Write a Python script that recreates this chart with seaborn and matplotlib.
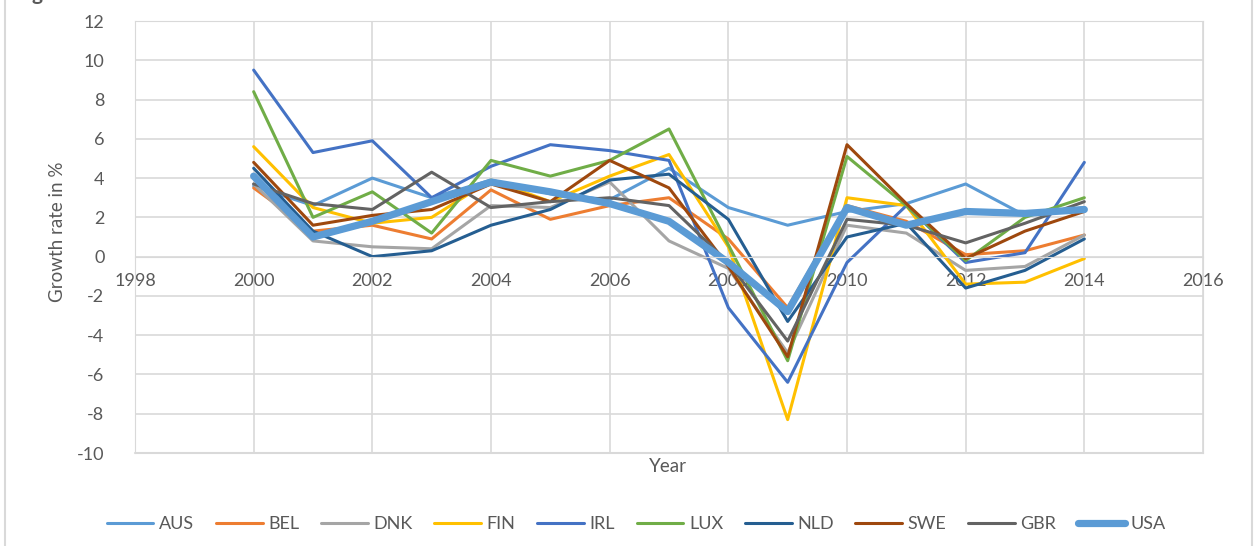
"""
GDP growth of selected countries, 2000-2014
"""
import matplotlib
matplotlib.use("Agg")
import matplotlib.pyplot as plt
import seaborn as sns
from matplotlib.lines import Line2D

sns.set_style("white")
plt.rcParams["font.family"] = ["Lato", "DejaVu Sans"]
plt.rcParams["axes.unicode_minus"] = False

years = list(range(2000, 2015))
countries = ["AUS", "BEL", "DNK", "FIN", "IRL", "LUX", "NLD", "SWE", "GBR", "USA"]

aus = [3.6, 2.6, 4.0, 3.0, 3.9, 3.2, 2.9, 4.5, 2.5, 1.6, 2.3, 2.7, 3.7, 2.1, 2.5]
bel = [3.5, 1.3, 1.6, 0.9, 3.4, 1.9, 2.6, 3.0, 0.9, -2.6, 2.6, 1.8, 0.1, 0.3, 1.1]
dnk = [3.7, 0.8, 0.5, 0.4, 2.6, 2.5, 3.8, 0.8, -0.6, -4.9, 1.6, 1.2, -0.7, -0.5, 1.1]
fin = [5.6, 2.5, 1.7, 2.0, 3.9, 2.8, 4.1, 5.2, 0.5, -8.3, 3.0, 2.6, -1.4, -1.3, -0.1]
irl = [9.5, 5.3, 5.9, 3.0, 4.6, 5.7, 5.4, 4.9, -2.6, -6.4, -0.3, 2.6, -0.3, 0.2, 4.8]
lux = [8.4, 2.0, 3.3, 1.2, 4.9, 4.1, 4.9, 6.5, 0.6, -5.3, 5.1, 2.6, -0.2, 2.0, 3.0]
nld = [4.5, 1.3, 0.0, 0.3, 1.6, 2.4, 3.9, 4.2, 1.9, -3.3, 1.0, 1.7, -1.6, -0.7, 0.9]
swe = [4.8, 1.6, 2.1, 2.4, 3.7, 2.8, 4.9, 3.5, -0.5, -5.1, 5.7, 2.7, -0.1, 1.3, 2.3]
gbr = [3.7, 2.7, 2.4, 4.3, 2.5, 2.8, 3.0, 2.6, -0.3, -4.3, 1.9, 1.6, 0.7, 1.7, 2.8]
usa = [4.1, 1.0, 1.8, 2.8, 3.8, 3.3, 2.7, 1.8, -0.3, -2.8, 2.5, 1.6, 2.3, 2.2, 2.4]

series = [aus, bel, dnk, fin, irl, lux, nld, swe, gbr, usa]
colors = ["#5B9BD5", "#ED7D31", "#A5A5A5", "#FFC000", "#4472C4",
          "#70AD47", "#255E91", "#9E480E", "#636363", "#5B9BD5"]

fig = plt.figure(figsize=(12.56, 5.46), dpi=100)
ax = fig.add_axes([135 / 1256, 1 - 453 / 546, (1203 - 135) / 1256, 432 / 546])

for name, vals, col in zip(countries, series, colors):
    lw = 5.2 if name == "USA" else 2.2
    sns.lineplot(x=years, y=vals, ax=ax, color=col, linewidth=lw, label=name,
                 solid_capstyle="round", solid_joinstyle="round")

grid_col = "#D9D9D9"
text_col = "#595959"
ax.set_xlim(1998, 2016)
ax.set_ylim(-10, 12)
ax.set_xticks(range(1998, 2017, 2))
ax.set_yticks(range(-10, 13, 2))
ax.grid(True, color=grid_col, linewidth=1.2)
ax.set_axisbelow(True)
for side in ["top", "right", "left"]:
    ax.spines[side].set_color(grid_col)
ax.spines["bottom"].set_position(("data", 0))
ax.spines["bottom"].set_color(grid_col)
ax.axhline(-10, color=grid_col, linewidth=1.5, clip_on=False, zorder=0)
ax.tick_params(length=0, labelsize=13, colors=text_col)
ax.tick_params(axis="x", pad=12)
ax.tick_params(axis="y", pad=22)
ax.set_xlabel("")
ax.set_ylabel("")

fig.text(668 / 1256, 1 - 467 / 546, "Year", ha="center", va="center",
         fontsize=13.5, color=text_col)
fig.text(58 / 1256, 1 - 232 / 546, "Growth rate in %", ha="center", va="center",
         rotation=90, fontsize=13.5, color=text_col)

# title sits mostly above the visible area, as in the cropped original
fig.text(15 / 1256, 1.0, "Figure 1: Annual GDP Growth in Selected Countries",
         ha="left", va="baseline", fontsize=15, fontweight="bold", color=text_col)

leg = ax.legend(loc="center", bbox_to_anchor=(636 / 1256, 1 - 524 / 546),
                bbox_transform=fig.transFigure, ncol=10, frameon=False,
                fontsize=13, handlelength=2.6, handletextpad=0.3,
                columnspacing=1.2)
for t in leg.get_texts():
    t.set_color(text_col)

# chart area border
fig.add_artist(Line2D([5 / 1256, 5 / 1256], [0, 1], color=grid_col, linewidth=1.5))
fig.add_artist(Line2D([1252 / 1256, 1252 / 1256], [0, 1], color=grid_col, linewidth=1.5))

fig.savefig("out.png", dpi=100)
